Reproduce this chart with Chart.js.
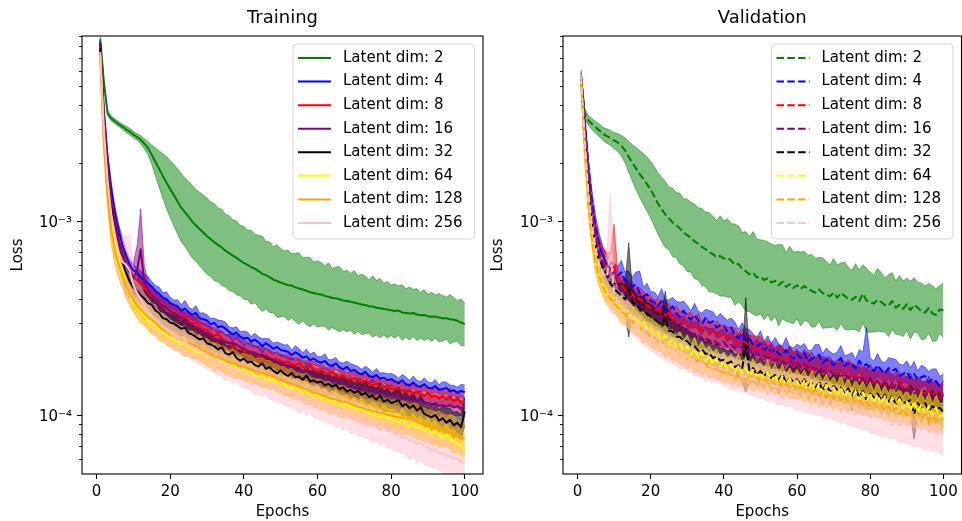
<!DOCTYPE html>
<html>
<head>
<meta charset="utf-8">
<title>Latent dim loss curves</title>
<script src="https://cdn.jsdelivr.net/npm/chart.js@4.4.1/dist/chart.umd.min.js"></script>
<style>
    html, body { margin: 0; padding: 0; background: #fff; }
    #wrap { position: relative; width: 962px; height: 521px; }
    #wrap canvas { position: absolute; top: 0; }
    #training { left: 0; }
    #validation { left: 480px; }
</style>
</head>
<body>
<div id="wrap">
    <canvas id="training" width="490" height="521"></canvas>
    <canvas id="validation" width="482" height="521"></canvas>
</div>
<script>
// losses are stored in units of 1e-6, spreads in percent (band = mean * / (1 + s))
var LOSS_UNIT = 1e-6;

var epochs = [1, 2, 3, 4, 5, 6, 7, 8, 9, 10, 11, 12, 13, 14, 15, 16, 17, 18, 19, 20,
    21, 22, 23, 24, 25, 26, 27, 28, 29, 30, 31, 32, 33, 34, 35, 36, 37, 38, 39, 40,
    41, 42, 43, 44, 45, 46, 47, 48, 49, 50, 51, 52, 53, 54, 55, 56, 57, 58, 59, 60,
    61, 62, 63, 64, 65, 66, 67, 68, 69, 70, 71, 72, 73, 74, 75, 76, 77, 78, 79, 80,
    81, 82, 83, 84, 85, 86, 87, 88, 89, 90, 91, 92, 93, 94, 95, 96, 97, 98, 99, 100];

var latentDims = [2, 4, 8, 16, 32, 64, 128, 256];
var seriesColors = ['#008000', '#0000ff', '#ff0000', '#800080', '#000000', '#ffff00', '#ffa500', '#ffc0cb'];

var xTickValues = [0, 20, 40, 60, 80, 100];
var yMajorTicks = [1e-4, 1e-3];
var yMajorLabels = ['10\u207b\u2074', '10\u207b\u00b3'];
var yMinorTicks = [6e-5, 7e-5, 8e-5, 9e-5, 2e-4, 3e-4, 4e-4, 5e-4, 6e-4, 7e-4, 8e-4, 9e-4,
    2e-3, 3e-3, 4e-3, 5e-3, 6e-3, 7e-3, 8e-3, 9e-3];

// ---- training ----
var trainLoss2 = [8700, 5200, 3620, 3400, 3290, 3180, 3090, 2990, 2910, 2810,
    2730, 2640, 2520, 2390, 2210, 2030, 1870, 1720, 1590, 1470,
    1370, 1270, 1180, 1120, 1060, 1000, 955, 915, 878, 840,
    812, 782, 758, 735, 708, 688, 668, 650, 630, 612,
    598, 582, 572, 556, 538, 530, 517, 502, 494, 485,
    478, 470, 468, 458, 452, 447, 440, 432, 428, 424,
    421, 414, 410, 404, 402, 398, 392, 390, 386, 383,
    378, 374, 372, 366, 365, 360, 358, 354, 352, 349,
    346, 348, 340, 338, 336, 338, 332, 329, 330, 325,
    323, 324, 320, 317, 318, 314, 312, 308, 302, 296];
var trainLoss4 = [8400, 3700, 2100, 1450, 1100, 900, 760, 665, 600, 560,
    545, 515, 500, 478, 462, 438, 425, 405, 398, 380,
    372, 366, 348, 356, 341, 330, 338, 318, 314, 309,
    296, 300, 285, 289, 281, 270, 262, 268, 255, 250,
    252, 241, 246, 238, 228, 236, 229, 221, 226, 218,
    216, 213, 205, 212, 206, 199, 202, 193, 197, 190,
    188, 191, 183, 180, 186, 177, 173, 178, 170, 172,
    166, 163, 168, 160, 158, 162, 155, 157, 152, 154,
    150, 147, 152, 145, 143, 148, 142, 141, 145, 139,
    138, 142, 136, 137, 139, 133, 135, 131, 134, 132];
var trainLoss8 = [8000, 3400, 1900, 1300, 1000, 820, 700, 620, 560, 520,
    500, 478, 452, 430, 415, 398, 380, 364, 358, 346,
    340, 332, 318, 322, 308, 298, 302, 286, 279, 276,
    264, 258, 262, 248, 242, 238, 226, 231, 224, 216,
    214, 210, 212, 204, 200, 206, 199, 195, 197, 191,
    188, 190, 184, 181, 186, 178, 175, 180, 172, 170,
    171, 166, 163, 168, 160, 158, 161, 154, 153, 157,
    150, 148, 152, 146, 143, 147, 141, 140, 143, 138,
    136, 139, 134, 131, 135, 130, 133, 128, 127, 131,
    125, 127, 122, 126, 121, 124, 119, 121, 117, 114];
var trainLoss16 = [8200, 3300, 1850, 1250, 960, 790, 680, 600, 545, 510,
    560, 720, 480, 440, 420, 400, 382, 370, 356, 344,
    336, 328, 318, 312, 300, 294, 286, 278, 270, 266,
    258, 250, 246, 242, 240, 236, 238, 232, 226, 222,
    216, 212, 210, 206, 204, 200, 196, 194, 190, 187,
    184, 182, 178, 176, 172, 170, 168, 165, 162, 160,
    158, 154, 156, 150, 152, 147, 146, 144, 142, 140,
    138, 140, 135, 134, 137, 131, 132, 130, 127, 129,
    125, 126, 122, 124, 120, 121, 118, 120, 116, 117,
    114, 116, 112, 113, 111, 114, 110, 112, 109, 110];
var trainLoss32 = [7800, 3000, 1700, 1150, 880, 720, 620, 545, 490, 458,
    440, 418, 400, 380, 372, 348, 338, 318, 314, 302,
    298, 289, 280, 284, 266, 262, 254, 247, 250, 236,
    232, 228, 219, 225, 210, 206, 212, 198, 192, 197,
    188, 190, 182, 179, 186, 174, 178, 170, 165, 171,
    164, 160, 166, 157, 159, 153, 161, 150, 152, 148,
    150, 143, 146, 141, 144, 137, 140, 133, 136, 131,
    134, 128, 131, 125, 126, 121, 127, 118, 121, 116,
    118, 120, 112, 115, 109, 113, 106, 110, 102, 100,
    98, 101, 94, 97, 92, 95, 89, 92, 87, 105];
var trainLoss64 = [7200, 2700, 1500, 1020, 800, 650, 560, 480, 420, 380,
    362, 346, 326, 312, 300, 290, 280, 268, 262, 252,
    248, 240, 233, 237, 224, 220, 214, 209, 211, 201,
    198, 195, 190, 192, 184, 180, 183, 175, 171, 173,
    166, 168, 161, 158, 162, 155, 151, 154, 147, 145,
    146, 140, 138, 141, 134, 132, 135, 128, 126, 129,
    122, 124, 119, 117, 121, 114, 112, 116, 110, 111,
    107, 109, 105, 102, 106, 100, 98, 102, 96, 97,
    95, 92, 96, 90, 88, 91, 86, 87, 84, 86,
    81, 83, 79, 77, 80, 75, 74, 71, 70, 66];
var trainLoss128 = [7000, 2500, 1350, 900, 700, 600, 530, 470, 425, 395,
    370, 352, 336, 322, 312, 300, 288, 278, 270, 262,
    256, 250, 246, 240, 236, 232, 228, 224, 216, 212,
    206, 200, 202, 196, 192, 188, 186, 184, 180, 178,
    176, 172, 170, 168, 166, 164, 162, 160, 156, 153,
    150, 148, 146, 143, 141, 138, 137, 134, 131, 130,
    128, 126, 124, 122, 121, 119, 118, 117, 115, 113,
    111, 110, 108, 107, 105, 105, 103, 103, 101, 100,
    99, 98, 97, 97, 96, 95, 93, 91, 90, 88,
    87, 86, 85, 84, 84, 82, 80, 78, 77, 76];
var trainLoss256 = [7500, 3000, 1650, 1100, 860, 700, 620, 600, 560, 470,
    430, 395, 368, 344, 326, 314, 296, 288, 276, 268,
    256, 254, 242, 240, 230, 228, 218, 218, 208, 206,
    198, 198, 188, 188, 181, 182, 174, 174, 168, 167,
    161, 161, 155, 155, 150, 150, 144, 145, 139, 140,
    134, 135, 130, 130, 126, 126, 121, 122, 117, 118,
    113, 114, 109, 111, 106, 107, 102, 103, 98, 100,
    95, 96, 92, 93, 89, 90, 86, 87, 83, 84,
    80, 81, 77, 78, 74, 75, 71, 72, 69, 69,
    66, 67, 64, 64, 62, 62, 60, 60, 58, 56];

var trainSpread2 = [3, 3, 3, 3, 3, 3, 3, 4, 4, 4,
    4, 5, 6, 8, 12, 18, 24, 30, 36, 40,
    44, 47, 50, 50, 52, 54, 53, 55, 56, 57,
    56, 58, 55, 57, 54, 56, 53, 55, 52, 54,
    51, 55, 50, 53, 56, 49, 52, 48, 54, 50,
    47, 52, 46, 50, 53, 45, 49, 51, 44, 48,
    46, 43, 49, 42, 45, 47, 41, 44, 40, 46,
    39, 43, 41, 37, 44, 38, 42, 36, 40, 35,
    38, 34, 39, 33, 37, 32, 36, 31, 35, 30,
    34, 29, 33, 31, 28, 34, 30, 27, 32, 29];
var trainSpread4 = [6, 8, 10, 10, 9, 8, 8, 7, 7, 7,
    6, 8, 7, 9, 6, 7, 8, 6, 9, 7,
    6, 8, 7, 10, 6, 7, 9, 6, 8, 7,
    7, 6, 9, 7, 8, 6, 8, 7, 6, 9,
    7, 6, 8, 7, 9, 6, 8, 7, 6, 8,
    7, 9, 6, 8, 7, 6, 9, 7, 8, 6,
    7, 9, 6, 8, 7, 6, 8, 7, 9, 6,
    8, 6, 7, 9, 6, 8, 7, 6, 8, 7,
    8, 6, 7, 9, 6, 8, 7, 6, 8, 7,
    7, 8, 6, 9, 7, 8, 6, 7, 8, 9];
var trainSpread8 = [6, 8, 10, 11, 10, 9, 9, 10, 11, 10,
    9, 11, 8, 10, 9, 12, 8, 10, 9, 8,
    10, 8, 9, 7, 10, 8, 9, 11, 8, 9,
    8, 10, 7, 9, 8, 10, 7, 9, 8, 7,
    9, 7, 8, 10, 7, 9, 8, 7, 9, 8,
    7, 9, 8, 10, 7, 8, 9, 7, 10, 8,
    9, 7, 8, 10, 8, 9, 7, 8, 10, 7,
    8, 10, 7, 9, 8, 11, 7, 9, 8, 10,
    9, 7, 10, 8, 9, 11, 8, 9, 10, 8,
    9, 11, 8, 10, 9, 12, 8, 10, 11, 9];
var trainSpread16 = [6, 8, 10, 11, 10, 10, 11, 12, 14, 20,
    34, 62, 22, 12, 10, 11, 9, 10, 12, 9,
    11, 10, 12, 9, 11, 10, 13, 9, 11, 10,
    12, 10, 11, 13, 9, 11, 10, 12, 9, 11,
    10, 12, 9, 11, 13, 10, 12, 9, 11, 10,
    12, 9, 11, 10, 13, 9, 11, 12, 10, 9,
    11, 13, 10, 12, 9, 11, 10, 13, 9, 11,
    12, 10, 11, 9, 13, 10, 12, 11, 9, 12,
    10, 11, 13, 9, 12, 10, 11, 12, 10, 13,
    11, 9, 12, 10, 13, 11, 10, 12, 9, 11];
var trainSpread32 = [8, 10, 12, 12, 13, 14, 20, 28, 22, 14,
    12, 11, 10, 12, 9, 11, 10, 12, 9, 11,
    10, 12, 9, 11, 13, 10, 12, 9, 11, 10,
    12, 10, 11, 13, 9, 11, 12, 10, 13, 11,
    12, 10, 13, 11, 12, 14, 10, 12, 13, 11,
    12, 14, 11, 13, 12, 10, 13, 12, 14, 11,
    13, 12, 14, 11, 13, 15, 12, 14, 13, 12,
    14, 12, 15, 13, 12, 14, 16, 13, 15, 12,
    14, 16, 13, 15, 14, 17, 13, 15, 16, 14,
    17, 15, 14, 16, 18, 15, 17, 14, 16, 18];
var trainSpread64 = [8, 10, 12, 12, 11, 10, 10, 9, 10, 9,
    10, 9, 11, 8, 10, 9, 11, 10, 8, 10,
    9, 11, 8, 10, 9, 11, 10, 8, 10, 9,
    11, 9, 10, 8, 11, 9, 10, 12, 9, 10,
    9, 11, 10, 8, 10, 12, 9, 10, 11, 9,
    10, 12, 9, 11, 10, 9, 12, 10, 11, 9,
    12, 10, 11, 9, 12, 10, 13, 11, 10, 12,
    11, 13, 10, 12, 11, 14, 10, 12, 13, 11,
    13, 11, 14, 12, 11, 13, 12, 14, 11, 13,
    12, 14, 13, 11, 14, 12, 15, 13, 12, 14];
var trainSpread128 = [8, 12, 16, 18, 18, 17, 16, 16, 15, 15,
    16, 18, 15, 17, 19, 16, 18, 15, 17, 16,
    18, 15, 17, 19, 16, 18, 15, 17, 16, 18,
    16, 19, 15, 17, 18, 16, 19, 17, 15, 18,
    17, 19, 16, 18, 20, 17, 19, 16, 18, 17,
    19, 17, 20, 18, 16, 19, 21, 17, 19, 18,
    20, 18, 21, 19, 17, 20, 22, 18, 20, 19,
    21, 19, 22, 20, 18, 21, 23, 19, 21, 20,
    22, 20, 23, 21, 19, 22, 24, 20, 22, 21,
    23, 21, 24, 22, 20, 23, 25, 21, 23, 22];
var trainSpread256 = [8, 12, 15, 16, 18, 20, 32, 40, 52, 24,
    16, 18, 15, 17, 16, 19, 15, 17, 18, 16,
    18, 16, 19, 17, 15, 18, 16, 19, 17, 18,
    16, 19, 17, 18, 20, 17, 19, 16, 18, 20,
    17, 19, 21, 18, 20, 17, 19, 21, 18, 20,
    19, 21, 18, 20, 22, 19, 21, 18, 20, 22,
    20, 22, 19, 21, 23, 20, 22, 19, 21, 23,
    21, 23, 20, 22, 24, 21, 23, 20, 22, 24,
    22, 24, 21, 23, 25, 22, 24, 21, 23, 25,
    23, 25, 22, 24, 26, 23, 25, 22, 24, 20];

// ---- validation ----
var valLoss2 = [5560, 3600, 3320, 3180, 3060, 2950, 2830, 2760, 2700, 2620,
    2560, 2460, 2330, 2160, 2010, 1880, 1760, 1660, 1560, 1460,
    1350, 1240, 1160, 1090, 1040, 990, 960, 920, 880, 850,
    830, 790, 770, 740, 720, 695, 680, 655, 665, 645,
    650, 630, 600, 605, 570, 555, 535, 545, 515, 520,
    500, 510, 485, 495, 470, 490, 460, 475, 455, 470,
    450, 465, 452, 440, 430, 448, 428, 420, 412, 430,
    405, 428, 415, 400, 395, 410, 390, 425, 392, 385,
    378, 395, 385, 372, 368, 390, 360, 372, 355, 375,
    350, 372, 360, 345, 340, 358, 336, 330, 352, 349];
var valLoss4 = [5600, 3300, 1900, 1250, 930, 760, 660, 600, 570, 540,
    525, 548, 496, 488, 462, 474, 428, 410, 422, 392,
    384, 368, 389, 352, 346, 366, 338, 322, 348, 324,
    312, 330, 309, 296, 318, 300, 306, 284, 292, 290,
    272, 284, 262, 250, 266, 244, 248, 232, 226, 236,
    216, 226, 212, 220, 207, 204, 218, 204, 196, 208,
    198, 210, 190, 196, 200, 206, 186, 194, 192, 182,
    190, 198, 180, 186, 184, 174, 192, 180, 184, 176,
    170, 182, 172, 164, 176, 170, 174, 160, 164, 168,
    156, 164, 152, 158, 160, 148, 154, 150, 142, 144];
var valLoss8 = [5500, 3000, 1700, 1100, 850, 700, 620, 580, 560, 600,
    492, 474, 446, 432, 424, 398, 402, 380, 372, 358,
    352, 348, 336, 330, 338, 312, 318, 306, 298, 300,
    294, 286, 292, 272, 276, 270, 262, 266, 258, 254,
    256, 246, 248, 234, 240, 238, 226, 228, 222, 224,
    212, 208, 212, 196, 202, 196, 192, 198, 188, 184,
    186, 180, 184, 172, 176, 178, 168, 174, 170, 166,
    164, 168, 162, 160, 164, 156, 158, 152, 156, 150,
    148, 152, 146, 144, 148, 140, 142, 146, 136, 140,
    136, 138, 132, 134, 130, 134, 128, 130, 126, 131];
var valLoss16 = [5500, 2900, 1600, 1050, 800, 680, 600, 540, 510, 480,
    462, 436, 440, 404, 398, 378, 376, 352, 350, 332,
    330, 316, 318, 300, 304, 290, 292, 276, 284, 266,
    268, 258, 262, 246, 252, 240, 246, 238, 232, 240,
    226, 232, 222, 224, 226, 212, 218, 206, 212, 202,
    204, 198, 200, 192, 196, 192, 184, 194, 182, 188,
    178, 184, 176, 180, 172, 178, 168, 172, 170, 162,
    166, 160, 164, 156, 162, 152, 158, 154, 148, 156,
    146, 150, 142, 148, 144, 138, 144, 136, 140, 134,
    138, 130, 134, 130, 126, 132, 126, 128, 122, 128];
var valLoss32 = [5400, 2700, 1450, 950, 740, 620, 580, 530, 480, 450,
    432, 414, 398, 445, 386, 370, 356, 352, 334, 324,
    314, 304, 290, 322, 274, 272, 256, 254, 244, 242,
    230, 228, 216, 220, 208, 210, 198, 202, 192, 194,
    186, 190, 178, 182, 174, 232, 170, 176, 162, 170,
    160, 168, 156, 162, 152, 164, 148, 156, 150, 154,
    144, 154, 142, 148, 138, 150, 134, 146, 132, 142,
    136, 140, 130, 138, 126, 138, 124, 134, 120, 130,
    124, 130, 120, 128, 118, 126, 114, 124, 116, 118,
    120, 102, 116, 110, 116, 106, 112, 108, 110, 104];
var valLoss64 = [5300, 2400, 1250, 850, 640, 540, 480, 440, 420, 400,
    372, 368, 342, 346, 318, 322, 296, 306, 282, 286,
    264, 270, 246, 258, 236, 248, 226, 236, 216, 228,
    206, 220, 198, 212, 190, 204, 184, 196, 178, 190,
    172, 184, 168, 180, 164, 176, 160, 172, 158, 166,
    154, 168, 150, 162, 146, 160, 142, 156, 140, 152,
    138, 152, 134, 150, 132, 146, 130, 144, 128, 140,
    126, 140, 124, 136, 122, 134, 120, 132, 118, 130,
    116, 128, 114, 126, 112, 124, 110, 122, 108, 118,
    106, 118, 104, 114, 102, 112, 100, 110, 98, 101];
var valLoss128 = [5200, 2300, 1200, 800, 610, 520, 460, 420, 400, 380,
    362, 342, 334, 312, 308, 290, 288, 270, 268, 254,
    252, 240, 240, 228, 228, 216, 216, 206, 206, 196,
    198, 188, 192, 182, 186, 176, 180, 172, 174, 166,
    170, 162, 168, 158, 164, 154, 162, 152, 158, 150,
    156, 146, 152, 144, 150, 140, 146, 138, 144, 136,
    142, 132, 138, 130, 136, 126, 132, 124, 130, 122,
    128, 120, 126, 118, 124, 116, 120, 114, 118, 112,
    116, 110, 114, 106, 112, 104, 110, 102, 108, 100,
    106, 98, 104, 96, 102, 94, 100, 94, 97, 95];
var valLoss256 = [5600, 2700, 1400, 950, 720, 600, 540, 520, 680, 420,
    390, 370, 350, 330, 310, 296, 284, 272, 262, 254,
    246, 240, 234, 228, 222, 216, 212, 208, 204, 200,
    196, 192, 188, 185, 182, 180, 178, 176, 174, 172,
    168, 166, 164, 162, 160, 158, 156, 154, 152, 150,
    148, 146, 144, 142, 140, 139, 137, 135, 134, 132,
    131, 129, 128, 126, 125, 123, 122, 120, 119, 117,
    116, 114, 113, 111, 110, 108, 107, 105, 104, 102,
    101, 100, 99, 97, 96, 95, 94, 92, 91, 90,
    89, 88, 87, 86, 85, 84, 83, 82, 81, 80];

var valSpread2 = [5, 6, 6, 7, 7, 8, 8, 9, 9, 10,
    11, 13, 16, 20, 24, 28, 32, 35, 38, 40,
    42, 44, 46, 48, 45, 50, 47, 52, 49, 54,
    51, 56, 53, 58, 55, 60, 57, 54, 61, 56,
    59, 55, 62, 57, 54, 60, 56, 63, 58, 55,
    60, 54, 58, 52, 62, 55, 50, 57, 53, 49,
    55, 51, 48, 54, 50, 46, 52, 48, 45, 50,
    47, 43, 49, 45, 42, 48, 44, 41, 46, 43,
    40, 45, 42, 38, 44, 40, 37, 42, 39, 36,
    41, 38, 35, 40, 37, 34, 39, 36, 33, 38];
var valSpread4 = [8, 10, 12, 14, 14, 13, 12, 12, 12, 13,
    12, 15, 11, 14, 12, 16, 30, 12, 14, 11,
    13, 11, 16, 12, 14, 11, 15, 19, 12, 14,
    11, 15, 12, 14, 11, 16, 12, 13, 15, 11,
    14, 12, 16, 11, 13, 15, 12, 14, 11, 16,
    12, 14, 11, 15, 13, 12, 16, 11, 14, 12,
    15, 12, 14, 11, 16, 13, 12, 15, 11, 14,
    12, 16, 13, 11, 15, 12, 14, 18, 55, 13,
    12, 15, 11, 14, 13, 16, 12, 15, 11, 14,
    13, 16, 12, 15, 11, 14, 13, 16, 12, 14];
var valSpread8 = [8, 10, 12, 14, 15, 16, 18, 20, 22, 62,
    14, 12, 15, 13, 16, 12, 14, 15, 13, 16,
    12, 15, 13, 17, 12, 14, 16, 13, 15, 12,
    16, 13, 15, 12, 17, 14, 12, 16, 13, 15,
    12, 16, 14, 13, 17, 12, 15, 13, 16, 14,
    13, 17, 12, 15, 14, 16, 12, 15, 13, 17,
    14, 12, 16, 13, 15, 12, 17, 14, 13, 16,
    12, 15, 14, 22, 13, 16, 12, 15, 14, 13,
    16, 12, 15, 13, 17, 14, 12, 16, 13, 15,
    14, 12, 16, 13, 15, 12, 17, 14, 13, 16];
var valSpread16 = [8, 10, 12, 14, 14, 15, 14, 15, 16, 14,
    15, 13, 16, 14, 17, 15, 13, 16, 14, 15,
    17, 14, 16, 13, 18, 15, 14, 17, 15, 16,
    14, 18, 15, 16, 14, 17, 15, 13, 18, 16,
    15, 17, 14, 18, 16, 15, 19, 14, 17, 16,
    18, 15, 17, 14, 19, 16, 15, 18, 16, 17,
    15, 19, 16, 18, 15, 17, 20, 16, 18, 15,
    17, 19, 16, 18, 15, 20, 17, 16, 19, 18,
    16, 19, 17, 15, 20, 18, 16, 19, 17, 18,
    20, 17, 19, 16, 18, 21, 17, 19, 16, 18];
var valSpread32 = [8, 10, 12, 14, 15, 16, 16, 17, 16, 15,
    14, 16, 18, 75, 16, 14, 15, 17, 14, 16,
    15, 14, 17, 36, 15, 16, 14, 17, 15, 16,
    14, 17, 15, 16, 14, 18, 15, 17, 16, 14,
    16, 15, 17, 14, 18, 75, 16, 18, 15, 17,
    16, 14, 17, 15, 18, 16, 14, 17, 15, 18,
    16, 15, 18, 14, 17, 16, 19, 15, 17, 16,
    18, 15, 17, 16, 19, 15, 18, 17, 16, 19,
    17, 15, 18, 16, 19, 17, 16, 20, 18, 17,
    19, 35, 18, 20, 17, 19, 21, 18, 20, 19];
var valSpread64 = [8, 10, 12, 13, 13, 12, 12, 13, 12, 13,
    12, 14, 13, 12, 14, 13, 15, 12, 14, 13,
    15, 12, 14, 13, 16, 12, 14, 15, 13, 14,
    12, 15, 13, 14, 16, 12, 15, 13, 14, 12,
    15, 13, 14, 16, 12, 15, 13, 14, 16, 13,
    14, 16, 13, 15, 12, 16, 14, 13, 15, 14,
    16, 13, 15, 14, 17, 13, 15, 14, 16, 13,
    15, 17, 14, 16, 13, 15, 17, 14, 16, 15,
    14, 17, 15, 13, 16, 15, 18, 14, 16, 15,
    17, 14, 16, 18, 15, 17, 14, 16, 18, 15];
var valSpread128 = [8, 10, 11, 12, 13, 13, 12, 13, 12, 13,
    12, 14, 13, 12, 14, 12, 13, 14, 12, 13,
    14, 12, 13, 15, 12, 14, 13, 12, 14, 13,
    12, 14, 13, 15, 12, 13, 14, 12, 15, 13,
    14, 12, 15, 13, 12, 14, 13, 15, 12, 14,
    13, 15, 12, 14, 13, 15, 12, 14, 16, 13,
    15, 13, 14, 16, 12, 15, 14, 13, 16, 14,
    13, 16, 14, 15, 13, 16, 14, 15, 13, 16,
    15, 14, 16, 13, 15, 17, 14, 16, 15, 14,
    16, 15, 17, 14, 16, 15, 17, 16, 15, 17];
var valSpread256 = [8, 12, 15, 16, 16, 17, 18, 26, 100, 24,
    17, 18, 16, 17, 19, 16, 18, 17, 16, 18,
    17, 19, 18, 16, 19, 17, 18, 20, 17, 19,
    18, 20, 17, 19, 21, 18, 20, 18, 19, 21,
    19, 21, 22, 19, 21, 20, 22, 21, 20, 22,
    21, 23, 20, 22, 24, 21, 23, 21, 22, 24,
    22, 23, 25, 22, 24, 22, 23, 25, 23, 24,
    23, 25, 23, 24, 26, 23, 25, 23, 24, 26,
    24, 25, 27, 24, 26, 24, 25, 27, 25, 26,
    25, 27, 25, 26, 28, 25, 27, 25, 26, 28];

var trainLosses = [trainLoss2, trainLoss4, trainLoss8, trainLoss16, trainLoss32, trainLoss64, trainLoss128, trainLoss256];
var trainSpreads = [trainSpread2, trainSpread4, trainSpread8, trainSpread16, trainSpread32, trainSpread64, trainSpread128, trainSpread256];
var valLosses = [valLoss2, valLoss4, valLoss8, valLoss16, valLoss32, valLoss64, valLoss128, valLoss256];
var valSpreads = [valSpread2, valSpread4, valSpread8, valSpread16, valSpread32, valSpread64, valSpread128, valSpread256];

var Y_MIN = 5.0e-5, Y_MAX = 9.05e-3;
var DASH = [7.5, 3.3];

Chart.defaults.font.family = "'DejaVu Sans', sans-serif";
Chart.defaults.font.size = 15;
Chart.defaults.color = '#000';

function rgba(hex, a) {
    var n = parseInt(hex.slice(1), 16);
    return 'rgba(' + ((n >> 16) & 255) + ',' + ((n >> 8) & 255) + ',' + (n & 255) + ',' + a + ')';
}

function buildDatasets(losses, spreads, dash) {
    var bands = [], lines = [];

    losses.forEach(function (loss, i) {
        var mid = [], up = [], lo = [];
        var c = seriesColors[i];

        loss.forEach(function (v, k) {
            var f = 1 + spreads[i][k] / 100;
            mid.push({x: epochs[k], y: v * LOSS_UNIT});
            up.push({x: epochs[k], y: v * LOSS_UNIT * f});
            lo.push({x: epochs[k], y: v * LOSS_UNIT / f});
        });

        bands.push({
            data: up, borderColor: rgba(c, 0.5), backgroundColor: rgba(c, 0.5),
            borderWidth: 1, pointRadius: 0, fill: '+1', order: 100 - i
        });
        bands.push({
            data: lo, borderColor: rgba(c, 0.5), borderWidth: 1,
            pointRadius: 0, fill: false, order: 100 - i
        });
        lines.push({
            label: 'Latent dim: ' + latentDims[i], data: mid, borderColor: c,
            borderWidth: 2, borderDash: dash, borderJoinStyle: 'round',
            pointRadius: 0, fill: false, order: 50 - i
        });
    });

    return bands.concat(lines);
}

// frame, minor ticks and the boxed legend in the upper right
var axesDecor = {
    id: 'axesDecor',
    afterDraw: function (chart) {
        var ctx = chart.ctx, a = chart.chartArea, y = chart.scales.y;

        ctx.save();
        ctx.strokeStyle = '#000';
        ctx.lineWidth = 0.9;
        yMinorTicks.forEach(function (v) {
            var py = Math.round(y.getPixelForValue(v)) + 0.5;
            ctx.beginPath();
            ctx.moveTo(a.left - 3, py);
            ctx.lineTo(a.left, py);
            ctx.stroke();
        });

        ctx.lineWidth = 1.1;
        ctx.strokeRect(a.left, a.top, a.right - a.left, a.bottom - a.top);

        var items = chart.data.datasets.filter(function (d) { return d.label; });
        var w = 181.5, h = 195, r = 4;
        var x0 = a.right - 8.5 - w, y0 = a.top + 8;

        ctx.beginPath();
        ctx.moveTo(x0 + r, y0);
        ctx.arcTo(x0 + w, y0, x0 + w, y0 + h, r);
        ctx.arcTo(x0 + w, y0 + h, x0, y0 + h, r);
        ctx.arcTo(x0, y0 + h, x0, y0, r);
        ctx.arcTo(x0, y0, x0 + w, y0, r);
        ctx.closePath();
        ctx.fillStyle = 'rgba(255,255,255,0.8)';
        ctx.fill();
        ctx.strokeStyle = 'rgba(204,204,204,0.8)';
        ctx.lineWidth = 1;
        ctx.stroke();

        ctx.font = "15px 'DejaVu Sans'";
        ctx.textBaseline = 'middle';
        items.forEach(function (d, i) {
            var ry = y0 + 14 + i * 23.57;
            ctx.strokeStyle = d.borderColor;
            ctx.lineWidth = 2;
            ctx.lineCap = 'butt';
            ctx.setLineDash(d.borderDash || []);
            ctx.beginPath();
            ctx.moveTo(x0 + 5, ry);
            ctx.lineTo(x0 + 38, ry);
            ctx.stroke();
            ctx.setLineDash([]);
            ctx.fillStyle = '#000';
            ctx.fillText(d.label, x0 + 50, ry);
        });
        ctx.restore();
    }
};

function makeChart(el, title, losses, spreads, dash, yAxisWidth, padRight) {
    return new Chart(document.getElementById(el), {
        type: 'line',
        data: {datasets: buildDatasets(losses, spreads, dash)},
        plugins: [axesDecor],
        options: {
            responsive: false,
            animation: false,
            devicePixelRatio: 1,
            layout: {padding: {left: 0, right: padRight, top: 0.4, bottom: 0}},
            elements: {line: {tension: 0}},
            plugins: {
                legend: {display: false},
                tooltip: {enabled: false},
                title: {
                    display: true, text: title, fullSize: false, color: '#000',
                    font: {size: 18, weight: 'normal'}, padding: {top: 7, bottom: 7}
                }
            },
            scales: {
                x: {
                    type: 'linear', min: -3.95, max: 104.95,
                    afterBuildTicks: function (s) {
                        s.ticks = xTickValues.map(function (v) { return {value: v}; });
                    },
                    afterFit: function (s) { s.height = 47; },
                    grid: {drawOnChartArea: false, drawTicks: true, tickLength: 5, tickColor: '#000', tickWidth: 1.1},
                    border: {display: false},
                    ticks: {padding: 4, color: '#000', maxRotation: 0, autoSkip: false},
                    title: {display: true, text: 'Epochs', color: '#000', padding: {top: 0, bottom: 0}}
                },
                y: {
                    type: 'logarithmic', min: Y_MIN, max: Y_MAX,
                    afterBuildTicks: function (s) {
                        s.ticks = yMinorTicks.concat(yMajorTicks).sort(function (p, q) { return p - q; })
                            .map(function (v) { return {value: v}; });
                    },
                    afterFit: function (s) { s.width = yAxisWidth; },
                    grid: {
                        drawOnChartArea: false, drawTicks: true, tickLength: 5, tickWidth: 1.1,
                        tickColor: function (c) {
                            return c.tick && yMajorTicks.indexOf(c.tick.value) >= 0 ? '#000' : 'rgba(0,0,0,0)';
                        }
                    },
                    border: {display: false},
                    ticks: {
                        padding: 5, color: '#000', autoSkip: false, labelOffset: 2,
                        callback: function (v) {
                            var k = yMajorTicks.indexOf(v);
                            return k >= 0 ? yMajorLabels[k] : '';
                        }
                    },
                    title: {display: true, text: 'Loss', color: '#000', padding: {top: 9, bottom: 0}}
                }
            }
        }
    });
}

makeChart('training', 'Training', trainLosses, trainSpreads, [], 82, 7);
makeChart('validation', 'Validation', valLosses, valSpreads, DASH, 83, 0.5);
</script>
</body>
</html>
